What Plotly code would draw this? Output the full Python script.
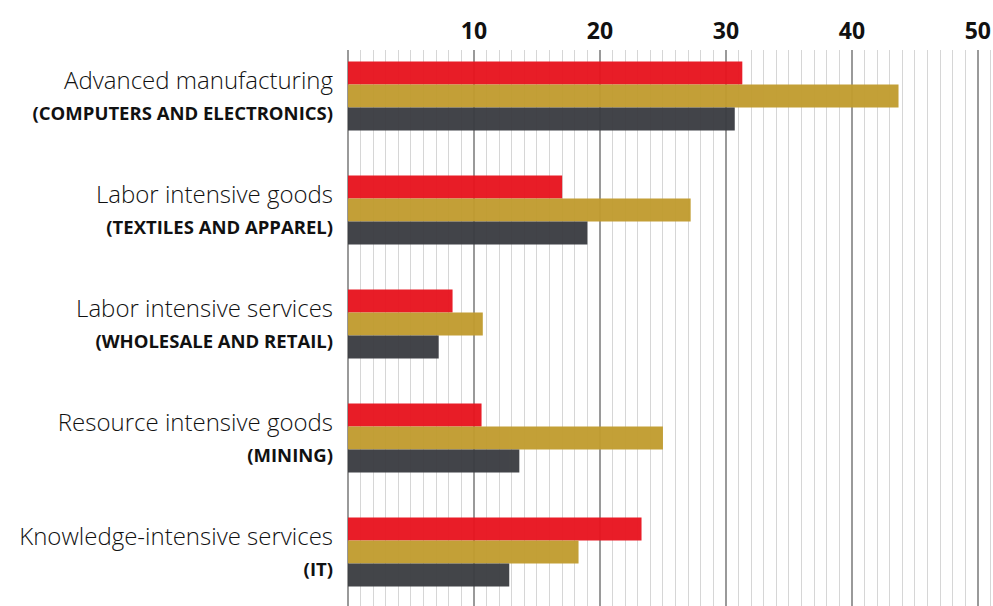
import plotly.graph_objects as go

categories = ["Advanced manufacturing", "Labor intensive goods", "Labor intensive services",
              "Resource intensive goods", "Knowledge-intensive services"]
subtitles = ["(COMPUTERS AND ELECTRONICS)", "(TEXTILES AND APPAREL)", "(WHOLESALE AND RETAIL)",
             "(MINING)", "(IT)"]
series_red = [31.3, 17.0, 8.3, 10.6, 23.3]
series_gold = [43.7, 27.2, 10.7, 25.0, 18.3]
series_dark = [30.7, 19.0, 7.2, 13.6, 12.8]
x_ticks = [10, 20, 30, 40, 50]

colors = ["#e8141f", "#c19c2f", "#3b3d42"]
names = ["Series 1", "Series 2", "Series 3"]

ticktext = [f"{c}<br><span style='font-size:18.5px;font-weight:700'>{s}</span>" for c, s in zip(categories, subtitles)]

fig = go.Figure()
for vals, col, nm in zip([series_red, series_gold, series_dark], colors, names):
    fig.add_trace(go.Bar(y=categories, x=vals, orientation="h", name=nm,
                         marker=dict(color=col, line=dict(width=0)), opacity=0.96))

fig.update_layout(
    width=993, height=606,
    margin=dict(l=348, r=0, t=50, b=0),
    barmode="group", bargap=0.395, bargroupgap=0,
    plot_bgcolor="white", paper_bgcolor="white",
    showlegend=False,
    font=dict(family="'Open Sans', sans-serif", color="#1a1a1a"),
)
fig.update_xaxes(
    side="top", range=[0, 51.2], tickvals=x_ticks, ticktext=[str(v) for v in x_ticks],
    tickfont=dict(size=23, family="'Open Sans', sans-serif", color="#111", weight="bold"),
    showgrid=True, gridcolor="#9a9a9a", gridwidth=1.5,
    minor=dict(dtick=1, showgrid=True, gridcolor="#d6d6d6", gridwidth=1),
    zeroline=True, zerolinecolor="#9a9a9a", zerolinewidth=1.5,
    ticks="", ticklabelstandoff=5, fixedrange=True,
)
fig.update_yaxes(
    categoryorder="array", categoryarray=categories,
    tickvals=categories, ticktext=ticktext,
    range=[4.474, -0.404],
    tickfont=dict(size=24, family="'Open Sans', sans-serif", color="#111", weight=300),
    ticks="", ticklabelstandoff=14, showgrid=False, fixedrange=True,
)

fig.write_html("out.html")
